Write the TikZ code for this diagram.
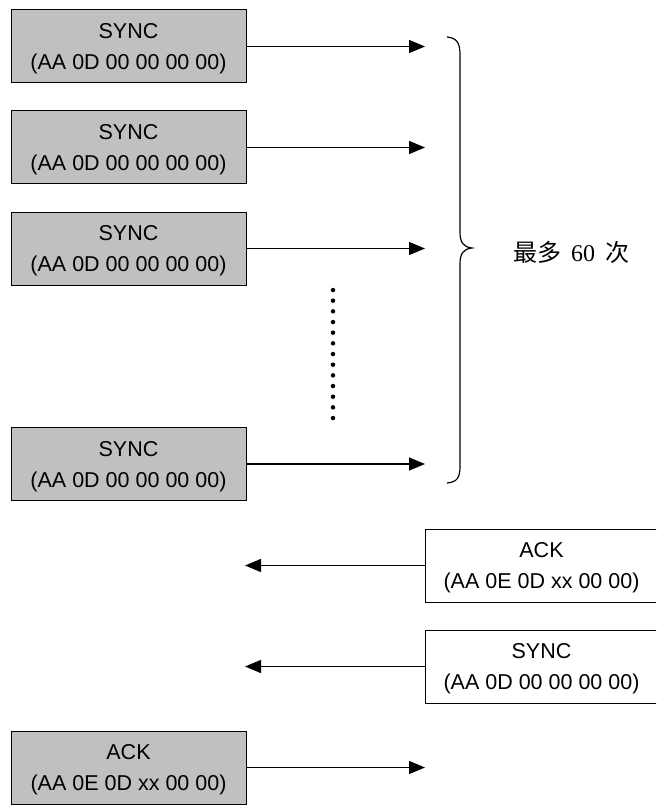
\documentclass[tikz,border=0pt]{standalone}
\usepackage{fontspec}
\setmainfont{Liberation Sans}
\newfontfamily\cjk{Noto Sans CJK SC}
\newfontfamily\serif{Liberation Serif}
\usetikzlibrary{arrows.meta}
\definecolor{boxgray}{HTML}{C0C0C0}
\tikzset{
  msg/.style={draw=black, line width=1pt, minimum width=235pt, minimum height=73pt,
    align=center, inner sep=0pt, text depth=-2pt, font=\fontsize{21.5}{31}\selectfont},
  sent/.style={msg, fill=boxgray},
  recv/.style={msg, fill=white, minimum width=233pt},
  flow/.style={line width=1.3pt, -{Triangle[length=16pt,width=13pt]}},
  dotmark/.style={circle, fill=black, inner sep=0pt, minimum size=4.5pt}
}
\begin{document}
\begin{tikzpicture}[x=1pt,y=-1pt]
\clip (0,0) rectangle (656,805);
\fill[white] (0,0) rectangle (656,805);
\node[sent] (s1) at (128.5,46.5) {SYNC\\(AA 0D 00 00 00 00)};
\node[sent] (s2) at (128.5,147.5) {SYNC\\(AA 0D 00 00 00 00)};
\node[sent] (s3) at (128.5,248.5) {SYNC\\(AA 0D 00 00 00 00)};
\node[sent] (s4) at (128.5,464) {SYNC\\(AA 0D 00 00 00 00)};
\node[recv] (r1) at (541.5,565.5) {ACK\\(AA 0E 0D xx 00 00)};
\node[recv] (r2) at (541.5,666.5) {SYNC\\(AA 0D 00 00 00 00)};
\node[sent] (a1) at (128.5,767.5) {ACK\\(AA 0E 0D xx 00 00)};
\coordinate (e1) at (425,46.5);
\coordinate (e2) at (425,147.5);
\coordinate (e3) at (425,248.5);
\coordinate (e4) at (425,464);
\coordinate (f1) at (245,565.5);
\coordinate (f2) at (245,666.5);
\coordinate (e5) at (425,767.5);
\draw[flow] (s1.east) -- (e1);
\draw[flow] (s2.east) -- (e2);
\draw[flow] (s3.east) -- (e3);
\draw[flow] (s4.east) -- (e4);
\draw[flow] (r1.west) -- (f1);
\draw[flow] (r2.west) -- (f2);
\draw[flow] (a1.east) -- (e5);
\foreach \i in {0,...,12} {
  \node[dotmark] (d\i) at (333,290+10.67*\i) {};
}
\draw[line width=1.2pt] (447,37) .. controls (457,38) and (460,43) .. (460,55)
  -- (460,232) .. controls (460,242) and (463,247) .. (472,248)
  .. controls (463,249) and (460,254) .. (460,264)
  -- (460,466) .. controls (460,478) and (457,482) .. (447,483);
\node[font=\fontsize{24}{28}\selectfont, inner sep=0pt] (lbl) at (571,252)
  {{\cjk 最多}\hspace{10pt}{\serif 60}\hspace{10pt}{\cjk 次}};
\end{tikzpicture}
\end{document}
